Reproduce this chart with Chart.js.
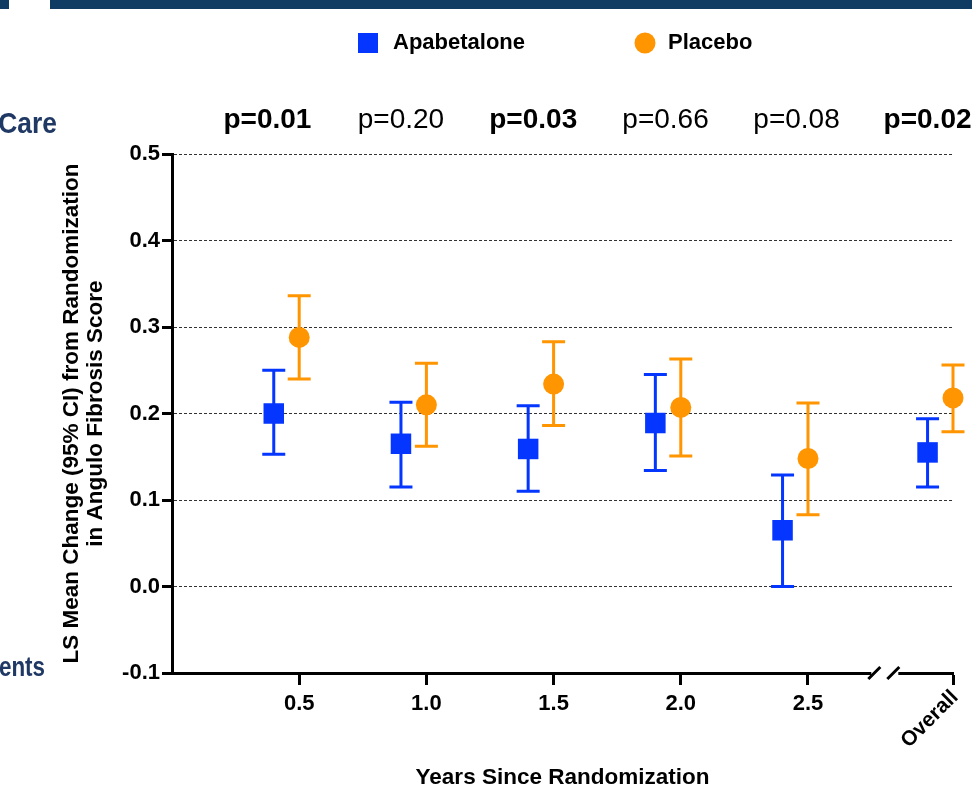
<!DOCTYPE html>
<html>
<head>
<meta charset="utf-8">
<script src="https://cdn.jsdelivr.net/npm/chart.js@4.4.0/dist/chart.umd.min.js"></script>
<style>
html, body { margin: 0; padding: 0; background: #fff; }
#wrap { position: relative; width: 972px; height: 785px; }
</style>
</head>
<body>
<div id="wrap"><canvas id="chart" width="972" height="785"></canvas></div>
<script>
// categories (position on the x axis, in years) and their labels
const groupPos = [0.5, 1.0, 1.5, 2.0, 2.5, 3.07];
const tickLabels = ['0.5', '1.0', '1.5', '2.0', '2.5', 'Overall'];

// Apabetalone: LS mean and 95% CI
const apaMean = [0.200, 0.165, 0.159, 0.189, 0.065, 0.155];
const apaLow  = [0.153, 0.115, 0.110, 0.134, 0.000, 0.115];
const apaHigh = [0.250, 0.213, 0.209, 0.245, 0.129, 0.194];

// Placebo: LS mean and 95% CI
const plaMean = [0.288, 0.210, 0.234, 0.207, 0.148, 0.218];
const plaLow  = [0.240, 0.162, 0.186, 0.151, 0.083, 0.179];
const plaHigh = [0.336, 0.258, 0.283, 0.263, 0.212, 0.256];

// p-values shown above each group
const pValues = ['p=0.01', 'p=0.20', 'p=0.03', 'p=0.66', 'p=0.08', 'p=0.02'];
const pBold = [true, false, true, false, false, true];
const pAnchor = [0.375, 0.9, 1.42, 1.94, 2.455, 2.97];

const yMin = -0.1, yMax = 0.5;
const breakAt = 2.8;

const FONT = "'Liberation Sans', Arial, sans-serif";
const BLUE = '#0536FF';
const ORANGE = '#FF9500';
const NAVY = '#1F3864';
const pairOffset = 0.1;

function points(means, lows, highs, shift) {
    return means.map((m, i) => ({ x: groupPos[i] + shift, y: m, lo: lows[i], hi: highs[i] }));
}

// vertical CI bars with caps
const errorBars = {
    id: 'errorBars',
    beforeDatasetsDraw(chart) {
        const { ctx, scales: { x, y } } = chart;
        chart.data.datasets.forEach(ds => {
            ctx.save();
            ctx.strokeStyle = ds.backgroundColor;
            ctx.lineWidth = 3;
            ds.data.forEach(pt => {
                const px = x.getPixelForValue(pt.x);
                const top = y.getPixelForValue(pt.hi);
                const bot = y.getPixelForValue(pt.lo);
                ctx.beginPath();
                ctx.moveTo(px, top); ctx.lineTo(px, bot);
                ctx.moveTo(px - 11.5, top); ctx.lineTo(px + 11.5, top);
                ctx.moveTo(px - 11.5, bot); ctx.lineTo(px + 11.5, bot);
                ctx.stroke();
            });
            ctx.restore();
        });
    }
};

function squeezedText(ctx, txt, right, baseline, sx) {
    ctx.save();
    ctx.translate(right, baseline);
    ctx.scale(sx, 1);
    ctx.fillText(txt, 0, 0);
    ctx.restore();
}

// slide remnants, legend, p-values, axis break, rotated "Overall"
const decorations = {
    id: 'decorations',
    afterDraw(chart) {
        const { ctx, scales: { x }, chartArea } = chart;
        ctx.save();

        // top banner
        ctx.fillStyle = '#103C64';
        ctx.fillRect(0, 0, 9, 9);
        ctx.fillRect(50, 0, 922, 9);

        // cut-off slide text on the left
        ctx.fillStyle = NAVY;
        ctx.font = `bold 30px ${FONT}`;
        ctx.textAlign = 'right';
        ctx.textBaseline = 'alphabetic';
        squeezedText(ctx, 'Care', 57, 133, 0.88);
        ctx.font = `bold 28px ${FONT}`;
        squeezedText(ctx, 'ents', 45, 676, 0.8);

        // legend
        ctx.fillStyle = BLUE;
        ctx.fillRect(358, 33, 20, 20);
        ctx.fillStyle = ORANGE;
        ctx.beginPath();
        ctx.arc(645, 43, 10.5, 0, Math.PI * 2);
        ctx.fill();
        ctx.fillStyle = '#000';
        ctx.font = `bold 22px ${FONT}`;
        ctx.textAlign = 'left';
        ctx.textBaseline = 'middle';
        ctx.fillText(chart.data.datasets[0].label, 393, 43);
        ctx.fillText(chart.data.datasets[1].label, 668, 43);

        // p-values
        ctx.textAlign = 'center';
        ctx.textBaseline = 'alphabetic';
        pValues.forEach((txt, i) => {
            ctx.font = `${pBold[i] ? 'bold ' : ''}28px ${FONT}`;
            ctx.fillText(txt, x.getPixelForValue(pAnchor[i]), 128);
        });

        // axis break
        const bx = x.getPixelForValue(breakAt);
        const by = chartArea.bottom;
        ctx.fillStyle = '#fff';
        ctx.fillRect(bx - 13, by - 3, 27, 6);
        ctx.strokeStyle = '#000';
        ctx.lineWidth = 3;
        ctx.beginPath();
        ctx.moveTo(bx - 16, by + 6); ctx.lineTo(bx - 4, by - 6);
        ctx.moveTo(bx + 3, by + 6); ctx.lineTo(bx + 15, by - 6);
        ctx.stroke();

        // rotated last tick label
        const ox = x.getPixelForValue(groupPos[groupPos.length - 1]);
        ctx.translate(ox + 2, by + 21);
        ctx.rotate(-Math.PI / 4);
        ctx.fillStyle = '#000';
        ctx.font = `bold 21px ${FONT}`;
        ctx.textAlign = 'right';
        ctx.textBaseline = 'middle';
        ctx.fillText(tickLabels[tickLabels.length - 1], 0, 0);
        ctx.restore();
    }
};

new Chart(document.getElementById('chart'), {
    type: 'scatter',
    data: {
        datasets: [
            {
                label: 'Apabetalone',
                data: points(apaMean, apaLow, apaHigh, -pairOffset),
                backgroundColor: BLUE,
                borderColor: BLUE,
                pointStyle: 'rect',
                pointRadius: 14.5,
                pointBorderWidth: 0,
                clip: false
            },
            {
                label: 'Placebo',
                data: points(plaMean, plaLow, plaHigh, 0),
                backgroundColor: ORANGE,
                borderColor: ORANGE,
                pointStyle: 'circle',
                pointRadius: 10.5,
                pointBorderWidth: 0,
                clip: false
            }
        ]
    },
    options: {
        responsive: false,
        animation: false,
        devicePixelRatio: 1,
        events: [],
        layout: { padding: { top: 154, right: 19, bottom: 0, left: 0 } },
        plugins: {
            legend: { display: false },
            tooltip: { enabled: false }
        },
        scales: {
            x: {
                type: 'linear',
                min: 0,
                max: groupPos[groupPos.length - 1],
                afterBuildTicks: scale => {
                    scale.ticks = groupPos.map(v => ({ value: v }));
                },
                afterFit: scale => { scale.height = 112; },
                grid: {
                    drawOnChartArea: false,
                    drawTicks: true,
                    tickLength: 12,
                    tickWidth: 3,
                    tickColor: '#000'
                },
                border: { display: true, color: '#000', width: 3 },
                ticks: {
                    autoSkip: false,
                    maxRotation: 0,
                    minRotation: 0,
                    padding: 6,
                    color: '#000',
                    font: { family: FONT, size: 22, weight: 'bold' },
                    callback: (v, i) => (i < tickLabels.length - 1 ? tickLabels[i] : '')
                },
                title: {
                    display: true,
                    text: 'Years Since Randomization',
                    color: '#000',
                    font: { family: FONT, size: 22.5, weight: 'bold', lineHeight: '14px' },
                    padding: 0
                }
            },
            y: {
                min: yMin,
                max: yMax,
                afterFit: scale => { scale.width = 172; },
                grid: {
                    color: '#333',
                    lineWidth: 1,
                    drawTicks: true,
                    tickLength: 10,
                    tickWidth: 3,
                    tickColor: '#000',
                    tickBorderDash: []
                },
                border: { display: true, color: '#000', width: 3, dash: [3, 2] },
                ticks: {
                    stepSize: 0.1,
                    padding: 2,
                    color: '#000',
                    font: { family: FONT, size: 22, weight: 'bold' },
                    callback: v => (Math.abs(v) < 1e-9 ? 0 : Number(v)).toFixed(1)
                },
                title: {
                    display: true,
                    text: ['LS Mean Change (95% CI) from Randomization', 'in Angulo Fibrosis Score'],
                    color: '#000',
                    font: { family: FONT, size: 22.5, weight: 'bold', lineHeight: '24px' },
                    padding: { top: 60, bottom: 0 }
                }
            }
        }
    },
    plugins: [errorBars, decorations]
});
</script>
</body>
</html>
